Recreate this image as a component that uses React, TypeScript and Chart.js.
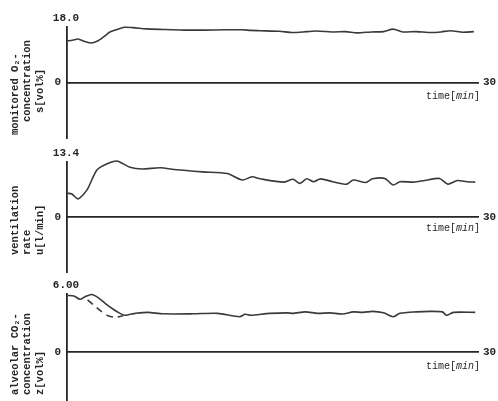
import React, { useEffect, useRef } from "react";
import { Chart, registerables } from "chart.js";

Chart.register(...registerables);

const timeMax = 30;

const o2Time = [0, 0.4, 0.8, 1.3, 1.8, 2.3, 2.8, 3.1, 3.6, 4.2, 4.8, 5.8, 7.0, 8.5, 10.0, 11.5, 12.8, 13.4, 14.1, 15.5, 16.5, 17.5, 18.2, 19.5, 20.3, 21.2, 22.2, 23.1, 23.8, 24.5, 25.5, 26.5, 27.3, 28.0, 28.9, 29.7];
const o2Values = [13.5, 13.7, 14.1, 13.3, 12.8, 13.6, 15.2, 16.3, 17.1, 17.9, 17.8, 17.4, 17.2, 17.0, 17.0, 17.1, 17.1, 16.9, 16.8, 16.6, 16.2, 16.5, 16.7, 16.4, 16.5, 16.1, 16.4, 16.5, 17.3, 16.4, 16.5, 16.2, 16.4, 16.8, 16.3, 16.5];

const ventTime = [0, 0.36, 0.8, 1.46, 2.2, 3.1, 3.7, 4.6, 5.5, 6.8, 8.0, 9.9, 11.7, 12.8, 13.5, 14.1, 15.8, 16.5, 17.0, 17.5, 18.0, 18.5, 19.4, 20.4, 20.9, 21.8, 22.3, 23.2, 23.8, 24.3, 25.3, 26.1, 27.2, 27.8, 28.5, 29.2, 29.8];
const ventValues = [5.8, 5.6, 4.4, 6.6, 11.5, 13.2, 13.6, 12.1, 11.7, 12.0, 11.5, 11.0, 10.6, 9.0, 9.8, 9.3, 8.5, 9.2, 8.2, 9.3, 8.6, 9.3, 8.6, 8.0, 9.0, 8.4, 9.3, 9.4, 7.8, 8.6, 8.5, 8.9, 9.4, 8.0, 8.9, 8.6, 8.5];

const co2Time = [0, 0.5, 0.95, 1.3, 1.8, 2.3, 2.9, 3.4, 3.8, 4.2, 4.6, 5.0, 5.9, 7.0, 9.2, 11.0, 12.6, 13.0, 13.4, 14.8, 16.1, 16.5, 17.4, 18.3, 19.2, 20.1, 20.9, 21.6, 22.3, 23.1, 23.8, 24.3, 25.5, 26.5, 27.4, 27.7, 28.2, 29.8];
const co2Values = [5.85, 5.8, 5.45, 5.7, 5.95, 5.6, 4.9, 4.4, 4.05, 3.8, 3.9, 4.0, 4.1, 3.95, 3.95, 4.0, 3.65, 3.9, 3.8, 4.0, 4.05, 4.0, 4.15, 4.0, 4.05, 3.93, 4.15, 4.1, 4.2, 4.05, 3.65, 4.0, 4.15, 4.2, 4.15, 3.8, 4.1, 4.1];

const co2DashTime = [1.5, 2.5, 3.0, 3.5, 4.1];
const co2DashValues = [5.4, 4.2, 3.75, 3.6, 3.75];

const o2Label = ["monitored O\u2082-", "concentration", "s[vol%]"];
const ventLabel = ["ventilation", "rate", "u[l/min]"];
const co2Label = ["alveolar CO\u2082-", "concentration", "z[vol%]"];

const INK = "#262626";
const LINE = "#3a3a3a";
const FONT = '"Liberation Mono", "DejaVu Sans Mono", monospace';
const PADT = 25;
const PADB = 4;

type Series = { t: number[]; v: number[]; dash?: number[] };

type PanelProps = {
  axisTop: number;
  axisBottom: number;
  ymax: number;
  maxLabel: string;
  series: Series[];
  labelLines: string[];
  labelStarts: number[];
  labelXs: number[];
  timeOffset: number;
};

function Panel(p: PanelProps) {
  const ref = useRef<HTMLCanvasElement | null>(null);
  const canvasTop = p.axisTop - PADT;
  const height = p.axisBottom - p.axisTop + PADT + PADB;

  useEffect(() => {
    if (!ref.current) return;
    const textPlugin = {
      id: "panelText",
      afterDraw(chart: any) {
        const { ctx, chartArea, scales } = chart;
        const y0 = scales.y.getPixelForValue(0);
        const xEnd = scales.x.getPixelForValue(timeMax);
        ctx.save();
        ctx.fillStyle = INK;
        ctx.font = `bold 11px ${FONT}`;
        ctx.textBaseline = "middle";
        ctx.textAlign = "center";
        ctx.fillText(p.maxLabel, chartArea.left - 1, chartArea.top - 9);
        ctx.textAlign = "right";
        ctx.fillText("0", chartArea.left - 6, y0);
        ctx.textAlign = "left";
        ctx.fillText(String(timeMax), xEnd + 5, y0);
        // time[min]
        ctx.font = `10px ${FONT}`;
        const a = "time[";
        const c = "]";
        const wa = ctx.measureText(a).width;
        const wc = ctx.measureText(c).width;
        ctx.font = `italic 10px ${FONT}`;
        const wb = ctx.measureText("min").width;
        let x = xEnd + 2 - (wa + wb + wc);
        const ty = y0 + p.timeOffset;
        ctx.font = `10px ${FONT}`;
        ctx.fillText(a, x, ty);
        x += wa;
        ctx.font = `italic 10px ${FONT}`;
        ctx.fillText("min", x, ty);
        x += wb;
        ctx.font = `10px ${FONT}`;
        ctx.fillText(c, x, ty);
        // rotated axis label
        ctx.font = `bold 10.5px ${FONT}`;
        ctx.textAlign = "left";
        p.labelLines.forEach((line, i) => {
          ctx.save();
          ctx.translate(p.labelXs[i], p.labelStarts[i] - canvasTop);
          ctx.rotate(-Math.PI / 2);
          ctx.fillText(line, 0, 0);
          ctx.restore();
        });
        ctx.restore();
      },
    };

    const chart = new Chart(ref.current, {
      type: "line",
      data: {
        datasets: p.series.map((s) => ({
          data: s.t.map((t, i) => ({ x: t, y: s.v[i] })),
          borderColor: LINE,
          borderWidth: 1.6,
          borderDash: s.dash || [],
          pointRadius: 0,
          tension: 0.25,
          fill: false,
          clip: false as any,
        })),
      },
      options: {
        animation: false,
        responsive: false,
        devicePixelRatio: 1,
        layout: { padding: { left: 67, right: 20, top: PADT, bottom: PADB } },
        plugins: { legend: { display: false }, tooltip: { enabled: false }, title: { display: false } },
        scales: {
          x: {
            type: "linear",
            min: 0,
            max: timeMax,
            position: { y: 0 } as any,
            grid: { display: false },
            border: { display: true, color: INK, width: 1.8 },
            ticks: { display: false },
            afterFit: (s: any) => {
              s.height = 0;
            },
          },
          y: {
            type: "linear",
            min: -p.ymax,
            max: p.ymax,
            position: "left",
            grid: { display: false },
            border: { display: true, color: INK, width: 1.8 },
            ticks: { display: false },
            afterFit: (s: any) => {
              s.width = 0;
            },
          },
        },
      },
      plugins: [textPlugin],
    });
    return () => chart.destroy();
  }, []);

  return (
    <canvas
      ref={ref}
      width={498}
      height={height}
      style={{ position: "absolute", left: 0, top: canvasTop, width: 498, height }}
    />
  );
}

export default function App() {
  return (
    <div
      style={{
        position: "absolute",
        left: 0,
        top: 0,
        width: 498,
        height: 401,
        overflow: "hidden",
        background: "#fff",
      }}
    >
      <Panel
        axisTop={27}
        axisBottom={138}
        ymax={18}
        maxLabel="18.0"
        series={[{ t: o2Time, v: o2Values }]}
        labelLines={o2Label}
        labelStarts={[135, 122, 113]}
        labelXs={[15, 27, 40]}
        timeOffset={14}
      />
      <Panel
        axisTop={162}
        axisBottom={272}
        ymax={13.4}
        maxLabel="13.4"
        series={[{ t: ventTime, v: ventValues }]}
        labelLines={ventLabel}
        labelStarts={[255, 255, 255]}
        labelXs={[15, 27, 40]}
        timeOffset={11}
      />
      <Panel
        axisTop={294}
        axisBottom={410}
        ymax={6}
        maxLabel="6.00"
        series={[
          { t: co2Time, v: co2Values },
          { t: co2DashTime, v: co2DashValues, dash: [7, 5] },
        ]}
        labelLines={co2Label}
        labelStarts={[395, 395, 395]}
        labelXs={[15, 27, 40]}
        timeOffset={14}
      />
    </div>
  );
}
